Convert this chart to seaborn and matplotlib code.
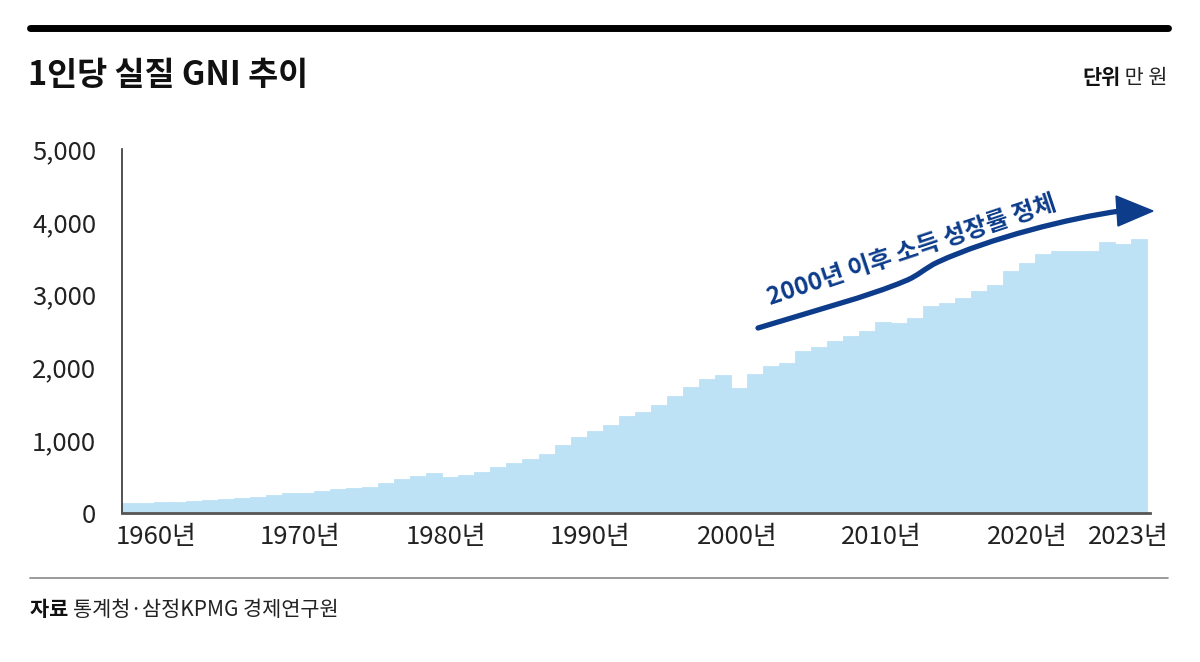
import seaborn as sns
import matplotlib.pyplot as plt
from matplotlib.path import Path
from matplotlib.patches import PathPatch, Polygon
from matplotlib.lines import Line2D
import pandas as pd

# 1인당 실질 GNI (만 원)
years = list(range(1960, 2024))
gni = [140, 142, 145, 155, 160, 175, 190, 205, 225, 250,
       270, 280, 306, 333, 347, 352, 412, 468, 509, 545,
       490, 523, 558, 636, 692, 736, 815, 930, 1046, 1120,
       1208, 1329, 1393, 1490, 1611, 1732, 1847, 1893, 1722, 1903,
       2018, 2055, 2227, 2282, 2356, 2426, 2495, 2620, 2611, 2680,
       2843, 2884, 2958, 3051, 3134, 3319, 3430, 3560, 3593, 3593,
       3593, 3726, 3699, 3769]
xtick_labels = ['1960년', '1970년', '1980년', '1990년', '2000년', '2010년', '2020년', '2023년']
xtick_pos = [1.6, 10.6, 19.7, 28.7, 37.9, 46.9, 56.0, 62.3]
ytick_vals = [0, 1000, 2000, 3000, 4000, 5000]

bar_color = '#bde2f6'
navy = '#0c3c8a'

sns.set_style('white')
plt.rcParams['font.family'] = ['Noto Sans CJK KR', 'DejaVu Sans']

df = pd.DataFrame({'year': years, 'gni': gni})

fig = plt.figure(figsize=(12, 6.62), dpi=100)
ax = fig.add_axes([122 / 1200, 1 - 513 / 662, 1028 / 1200, 364 / 662])

sns.barplot(data=df, x='year', y='gni', color=bar_color, saturation=1, width=1,
            linewidth=0.6, edgecolor=bar_color, ax=ax)

ax.set_xlim(-0.5, 63.67)
ax.set_ylim(0, 5000)
ax.set_xticks(xtick_pos, xtick_labels)
ax.set_yticks(ytick_vals, [f'{v:,}' for v in ytick_vals])
ax.set_xlabel('')
ax.set_ylabel('')

for side in ['top', 'right']:
    ax.spines[side].set_visible(False)
ax.spines['left'].set_color('#333333')
ax.spines['left'].set_linewidth(1.2)
ax.spines['bottom'].set_color('#555555')
ax.spines['bottom'].set_linewidth(2)
ax.tick_params(axis='y', length=8.6, width=1.2, color='#333333', pad=10,
               labelsize=18.5, labelcolor='#222222')
ax.tick_params(axis='x', length=0, pad=8, labelsize=18.5, labelcolor='#222222')

# Header / footer decoration
fig.add_artist(Line2D([30 / 1200, 1168 / 1200], [1 - 28 / 662] * 2, color='black',
                      lw=5, transform=fig.transFigure))
fig.add_artist(Line2D([30 / 1200, 1168 / 1200], [1 - 578 / 662] * 2, color='#8a8a8a',
                      lw=1.2, transform=fig.transFigure))
fig.text(28 / 1200, 1 - 76 / 662, '1인당 실질 GNI 추이', fontsize=23.5, fontweight='bold',
         va='center', ha='left', color='#111111')

unit_val = fig.text(1168 / 1200, 1 - 78 / 662, ' 만 원', fontsize=15, va='center',
                    ha='right', color='#222222')
src_key = fig.text(30 / 1200, 1 - 610 / 662, '자료 ', fontsize=15, fontweight='bold',
                   va='center', ha='left', color='#111111')
fig.canvas.draw()
r = fig.canvas.get_renderer()
ub = unit_val.get_window_extent(r)
fig.text(ub.x0 / fig.bbox.width, 1 - 78 / 662, '단위', fontsize=15, fontweight='bold',
         va='center', ha='right', color='#111111')
sb = src_key.get_window_extent(r)
fig.text(sb.x1 / fig.bbox.width, 1 - 610 / 662, '통계청·삼정KPMG 경제연구원', fontsize=15,
         va='center', ha='left', color='#222222')


# Annotation arrow (figure pixel coords, y measured from top)
def fp(x, y):
    return (x / 1200, 1 - y / 662)


verts = [fp(758, 328), fp(810, 312), fp(870, 296), fp(905, 281),
         fp(918, 276), fp(925, 268), fp(938, 262),
         fp(990, 238), fp(1070, 218), fp(1120, 211)]
codes = [Path.MOVETO] + [Path.CURVE4] * 9
fig.add_artist(PathPatch(Path(verts, codes), facecolor='none', edgecolor=navy, lw=3.8,
                         capstyle='round', transform=fig.transFigure))
fig.add_artist(Polygon([fp(1116, 196), fp(1153, 211), fp(1118, 226)], closed=True,
                       facecolor=navy, edgecolor=navy, transform=fig.transFigure))
fig.text(*fp(912, 251), '2000년 이후 소득 성장률 정체', fontsize=17.5, fontweight='bold',
         color=navy, rotation=18.4, rotation_mode='anchor', ha='center', va='center')

plt.savefig('out.png', dpi=100)
